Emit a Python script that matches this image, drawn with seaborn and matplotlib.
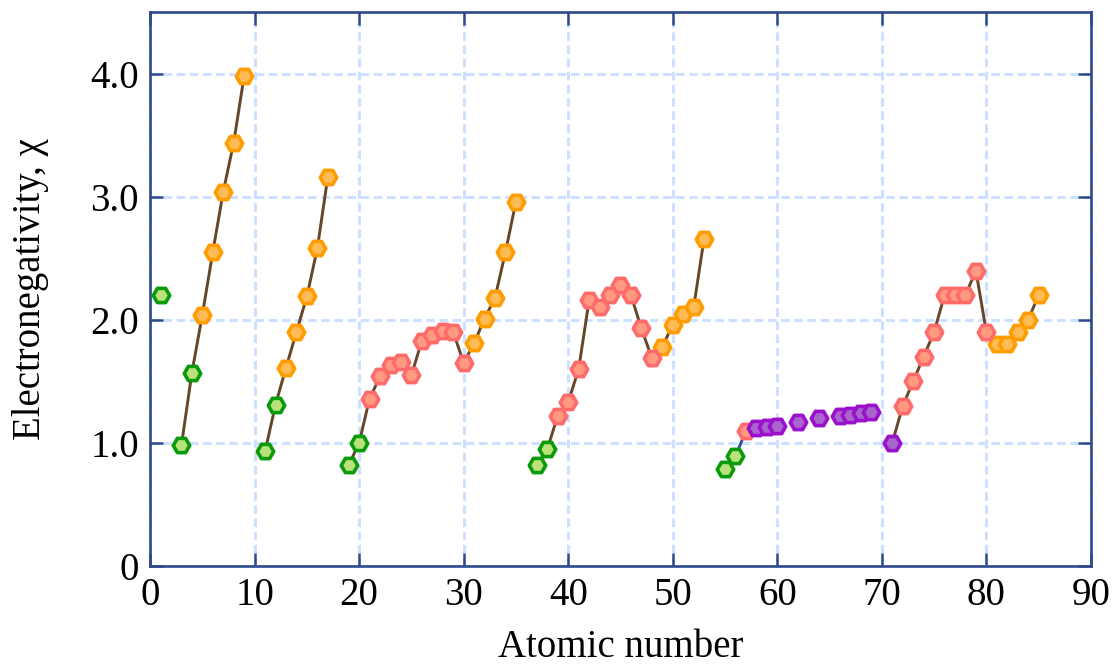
import numpy as np
import pandas as pd
import matplotlib
matplotlib.use("Agg")
import matplotlib.pyplot as plt
import seaborn as sns

# ---- data ----
atomic_number = [1, 3, 4, 5, 6, 7, 8, 9,
                 11, 12, 13, 14, 15, 16, 17,
                 19, 20, 21, 22, 23, 24, 25, 26, 27, 28, 29, 30, 31, 32, 33, 34, 35,
                 37, 38, 39, 40, 41, 42, 43, 44, 45, 46, 47, 48, 49, 50, 51, 52, 53,
                 55, 56, 57, 58, 59, 60, 62, 64, 66, 67, 68, 69,
                 71, 72, 73, 74, 75, 76, 77, 78, 79, 80, 81, 82, 83, 84, 85]
electronegativity = [2.20, 0.98, 1.57, 2.04, 2.55, 3.04, 3.44, 3.98,
                     0.93, 1.31, 1.61, 1.90, 2.19, 2.58, 3.16,
                     0.82, 1.00, 1.36, 1.54, 1.63, 1.66, 1.55, 1.83, 1.88, 1.91, 1.90, 1.65, 1.81, 2.01, 2.18, 2.55, 2.96,
                     0.82, 0.95, 1.22, 1.33, 1.60, 2.16, 2.10, 2.20, 2.28, 2.20, 1.93, 1.69, 1.78, 1.96, 2.05, 2.10, 2.66,
                     0.79, 0.89, 1.10, 1.12, 1.13, 1.14, 1.17, 1.20, 1.22, 1.23, 1.24, 1.25,
                     1.00, 1.30, 1.50, 1.70, 1.90, 2.20, 2.20, 2.20, 2.40, 1.90, 1.80, 1.80, 1.90, 2.00, 2.20]
green_z = [1, 3, 4, 11, 12, 19, 20, 37, 38, 55, 56]
orange_z = [5, 6, 7, 8, 9, 13, 14, 15, 16, 17, 31, 32, 33, 34, 35, 49, 50, 51, 52, 53, 81, 82, 83, 84, 85]
purple_z = [58, 59, 60, 62, 64, 66, 67, 68, 69, 71]
# connected runs (first Z, last Z, line colour key)
segments = [(3, 9, "brown"), (11, 17, "brown"), (19, 35, "brown"), (37, 53, "brown"),
            (55, 57, "blue"), (71, 85, "brown")]
x_ticks = [0, 10, 20, 30, 40, 50, 60, 70, 80, 90]
y_ticks = [0, 1, 2, 3, 4]
y_ticklabels = ["0", "1.0", "2.0", "3.0", "4.0"]

def group_of(z):
    if z in green_z:
        return "green"
    if z in orange_z:
        return "orange"
    if z in purple_z:
        return "purple"
    return "salmon"

df = pd.DataFrame({"Z": atomic_number, "chi": electronegativity})
df["group"] = df["Z"].map(group_of)

line_colors = {"brown": "#654628", "blue": "#2f52a0"}
face_colors = {"green": "#b9e27a", "orange": "#ffbb55", "salmon": "#ff9a80", "purple": "#a865cc"}
edge_colors = {"green": "#0a9a0a", "orange": "#ff9d00", "salmon": "#ff6b6b", "purple": "#9a10cc"}

sns.set_theme(style="white")
plt.rcParams["font.family"] = ["Liberation Serif", "DejaVu Serif"]
plt.rcParams["axes.labelcolor"] = "black"
plt.rcParams["text.color"] = "black"

fig = plt.figure(figsize=(11.2, 6.69), dpi=100)
ax = fig.add_axes([0.134, 0.154, 0.840, 0.828])

for z0, z1, c in segments:
    sub = df[(df["Z"] >= z0) & (df["Z"] <= z1)]
    sns.lineplot(data=sub, x="Z", y="chi", ax=ax, color=line_colors[c],
                 linewidth=2.1, zorder=3, sort=True, estimator=None)

for g in ["green", "orange", "salmon", "purple"]:
    sub = df[df["group"] == g]
    sns.scatterplot(data=sub, x="Z", y="chi", ax=ax, marker="H", s=140,
                    color=face_colors[g], edgecolor=edge_colors[g], linewidth=2.6,
                    zorder=4, legend=False)

ax.set_xlim(0, 90)
ax.set_ylim(0, 4.5)
ax.set_xticks(x_ticks)
ax.set_yticks(y_ticks)
ax.set_yticklabels(y_ticklabels)
ax.grid(True, color="#cde0ff", linestyle=(0, (2.8, 1.5)), linewidth=2.2)
ax.set_axisbelow(True)

frame = "#2d4a8c"
for sp in ax.spines.values():
    sp.set_color(frame)
    sp.set_linewidth(1.9)
ax.tick_params(direction="in", length=9.5, width=1.8, color=frame,
               top=True, right=True, bottom=True, left=True,
               labelsize=28, pad=8, labelcolor="black")

ax.set_xlabel("Atomic number", fontsize=28, labelpad=11, color="black")
ax.set_ylabel("Electronegativity, χ", fontsize=28, labelpad=30, color="black")

fig.savefig("out.png", dpi=100)
